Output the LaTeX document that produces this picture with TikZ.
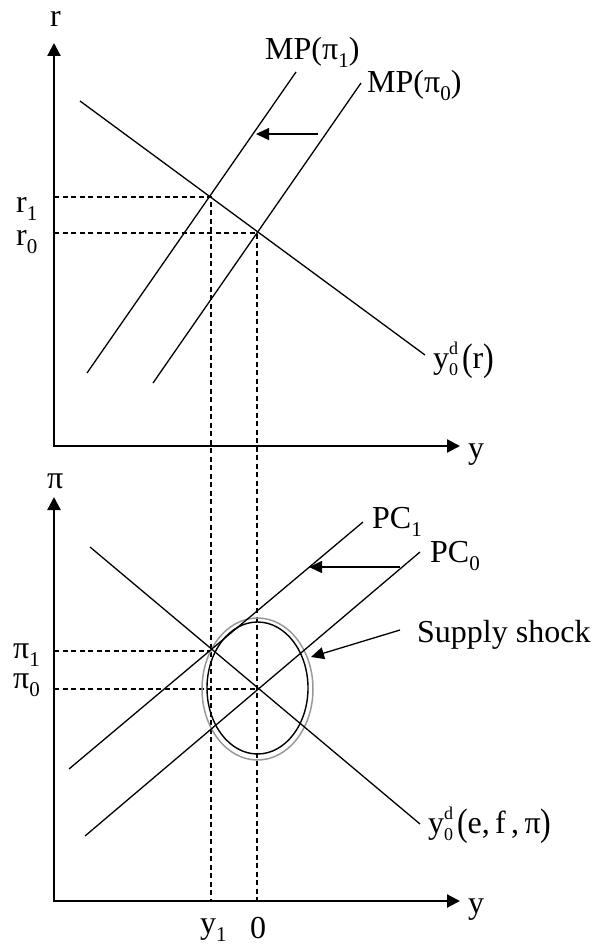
\documentclass[tikz,border=0pt]{standalone}
\usepackage{fontspec}
\usepackage{graphicx}
\setmainfont{Liberation Serif}
\usetikzlibrary{arrows.meta,shapes.geometric}
\newcommand\lsub[1]{\raisebox{-0.25em}{\fontsize{21}{21}\selectfont #1}}
\newcommand\ydz{y\rlap{\raisebox{0.42em}{\fontsize{18}{18}\selectfont d}}\raisebox{-0.24em}{\fontsize{18}{18}\selectfont 0}\hspace{0.12em}}
\newcommand\bp[1]{\raisebox{-0.08em}{\scalebox{1}[1.2]{#1}}}
\begin{document}
\begin{tikzpicture}[x=1pt,y=-1pt,
  curve/.style={line width=1.3pt},
  axis/.style={line width=2.2pt,line join=miter,{Triangle[length=13pt,width=13pt]}-{Triangle[length=13pt,width=13pt]}},
  guide/.style={line width=1.2pt,dash pattern=on 5pt off 3.5pt},
  shiftarrow/.style={line width=1.3pt,-{Triangle[length=13pt,width=12pt]}},
  lab/.style={font=\fontsize{32}{36}\selectfont,inner sep=0pt,anchor=base west},
  labc/.style={font=\fontsize{32}{36}\selectfont,inner sep=0pt,anchor=base}]
\useasboundingbox (0,0) rectangle (592,947);

% ---------- top panel ----------
\coordinate (Rt) at (54,43);
\coordinate (Ot) at (54,446);
\coordinate (Yt) at (460,446);
\draw[axis] (Rt) -- (Ot) -- (Yt);

\coordinate (dt1) at (80,101);
\coordinate (dt2) at (425,355);
\coordinate (mp1a) at (87,373);
\coordinate (mp1b) at (296,72);
\coordinate (mp0a) at (153,383);
\coordinate (mp0b) at (361,83);
\coordinate (E1) at (211,197);
\coordinate (E0) at (257,233);
\coordinate (r1a) at (54,197);
\coordinate (r0a) at (54,233);
\coordinate (v1) at (211,901);
\coordinate (v0) at (257,901);

\draw[guide] (r1a) -- (E1) -- (v1);
\draw[guide] (r0a) -- (E0) -- (v0);

\draw[curve] (dt1) -- (dt2);
\draw[curve] (mp1a) -- (mp1b);
\draw[curve] (mp0a) -- (mp0b);

\coordinate (sa1) at (318,134);
\coordinate (sa2) at (256,134);
\draw[shiftarrow] (sa1) -- (sa2);

\node[lab] (lr) at (50,27) {r};
\node[lab] (ly) at (468,458) {y};
\node[lab] (lr1) at (16,212) {r\lsub{1}};
\node[lab] (lr0) at (16,245) {r\lsub{0}};
\node[lab] (lmp1) at (265,60) {MP(π\lsub{1})};
\node[lab] (lmp0) at (367,93) {MP(π\lsub{0})};
\node[lab] (lyd) at (433,368) {\ydz\bp{(}r\bp{)}};

% ---------- bottom panel ----------
\coordinate (Pb) at (54,497);
\coordinate (Ob) at (54,901);
\coordinate (Yb) at (460,901);
\draw[axis] (Pb) -- (Ob) -- (Yb);

\coordinate (db1) at (90,547);
\coordinate (db2) at (420,824);
\coordinate (pc1a) at (69,769);
\coordinate (pc1b) at (363,522);
\coordinate (pc0a) at (85,836);
\coordinate (pc0b) at (420,552);
\coordinate (F1) at (211,651);
\coordinate (F0) at (257,689);
\coordinate (p1a) at (54,651);
\coordinate (p0a) at (54,689);

\draw[guide] (p1a) -- (F1);
\draw[guide] (p0a) -- (F0);

\node[draw=black!40,line width=1.5pt,ellipse,minimum width=111pt,minimum height=142pt,inner sep=0pt] (shockg) at (257.5,689) {};
\node[draw=black,line width=1.4pt,ellipse,minimum width=101pt,minimum height=132pt,inner sep=0pt] (shockb) at (257.5,688) {};

\draw[curve] (db1) -- (db2);
\draw[curve] (pc1a) -- (pc1b);
\draw[curve] (pc0a) -- (pc0b);

\coordinate (pa1) at (400,567);
\coordinate (pa2) at (309,567);
\draw[shiftarrow] (pa1) -- (pa2);

\node[lab] (lss) at (417,642) {Supply shock};
\coordinate (ss1) at (400,630);
\coordinate (ss2) at (311,657);
\draw[shiftarrow] (ss1) -- (ss2);

\node[lab] (lpi) at (47,488) {π};
\node[lab] (lyb) at (468,913) {y};
\node[lab] (lp1) at (13,658) {π\lsub{1}};
\node[lab] (lp0) at (13,688) {π\lsub{0}};
\node[lab] (lpc1) at (372,528) {PC\lsub{1}};
\node[lab] (lpc0) at (430,562) {PC\lsub{0}};
\node[lab] (lydb) at (428,833) {\ydz\bp{(}e,\,f\,,\,π\bp{)}};
\node[lab] (ly1) at (200,933) {y\lsub{1}};
\node[labc] (lzero) at (258,938) {0};
\end{tikzpicture}
\end{document}
